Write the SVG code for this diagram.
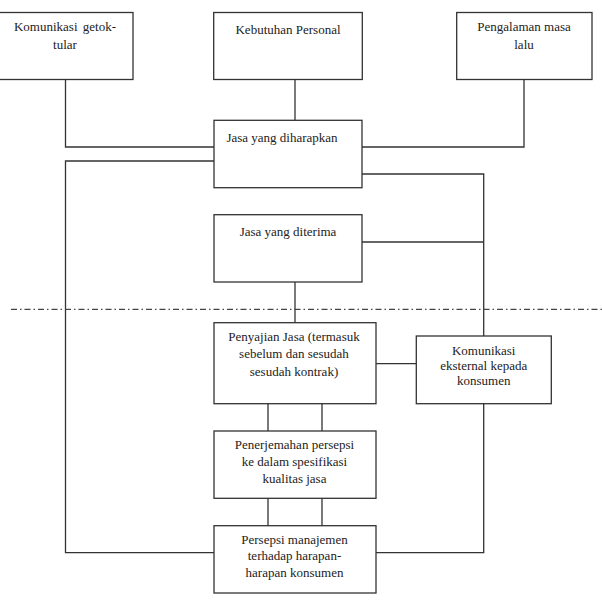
<svg xmlns="http://www.w3.org/2000/svg" width="602" height="613" viewBox="0 0 602 613">
<style>
.box{fill:#fff;stroke:#333;stroke-width:1.3}
.ln{fill:none;stroke:#333;stroke-width:1.3}
.dd{fill:none;stroke:#444;stroke-width:1.2;stroke-dasharray:6 3 1.5 3}
text{font-family:"Liberation Serif","Times New Roman",serif;font-size:13px;fill:#222;text-anchor:middle}
</style>
<rect width="602" height="613" fill="#fff"/>
<g id="connectors">
<path class="ln" d="M65.5 79.5V147H214"/>
<path class="ln" d="M295 79.5V120.5"/>
<path class="ln" d="M524 79.5V147H362"/>
<path class="ln" d="M214 161H65.5V552.7H214"/>
<path class="ln" d="M362 174H483.7V336"/>
<path class="ln" d="M362 242H483.7"/>
<path class="ln" d="M295 282V322.7"/>
<path class="ln" d="M376 363.7H416.3"/>
<path class="ln" d="M483.7 403.7V552.7H376"/>
<path class="ln" d="M268 403.7V431M322 403.7V431"/>
<path class="ln" d="M268 498.3V525.7M322 498.3V525.7"/>
<path class="dd" d="M11 309.3H602"/>
</g>
<g id="n1"><rect class="box" x="-1" y="12.5" width="134" height="67"/><text x="65" y="31" word-spacing="2">Komunikasi getok-</text><text x="65" y="49">tular</text></g>
<g id="n2"><rect class="box" x="213.7" y="12.5" width="148.6" height="67"/><text x="288" y="34">Kebutuhan Personal</text></g>
<g id="n3"><rect class="box" x="456.7" y="12.5" width="135.3" height="67"/><text x="524" y="31">Pengalaman masa</text><text x="524" y="49">lalu</text></g>
<g id="n4"><rect class="box" x="214" y="120.3" width="148" height="67.4"/><text x="282" y="142">Jasa yang diharapkan</text></g>
<g id="n5"><rect class="box" x="214" y="214.7" width="148" height="67.3"/><text x="288" y="236">Jasa yang diterima</text></g>
<g id="n6"><rect class="box" x="214" y="322.7" width="162" height="81"/><text x="294" y="341">Penyajian Jasa (termasuk</text><text x="294" y="358">sebelum dan sesudah</text><text x="294" y="376">sesudah kontrak)</text></g>
<g id="n7"><rect class="box" x="416.3" y="336" width="135" height="67.7"/><text x="483.7" y="355">Komunikasi</text><text x="483.7" y="370">eksternal kepada</text><text x="483.7" y="385">konsumen</text></g>
<g id="n8"><rect class="box" x="214" y="431" width="162" height="67.3"/><text x="294.5" y="449">Penerjemahan persepsi</text><text x="294.5" y="466">ke dalam spesifikasi</text><text x="294.5" y="483">kualitas jasa</text></g>
<g id="n9"><rect class="box" x="214" y="525.7" width="162" height="67.3"/><text x="294.5" y="543.5">Persepsi manajemen</text><text x="294.5" y="559.5">terhadap harapan-</text><text x="294.5" y="577">harapan konsumen</text></g>
</svg>
